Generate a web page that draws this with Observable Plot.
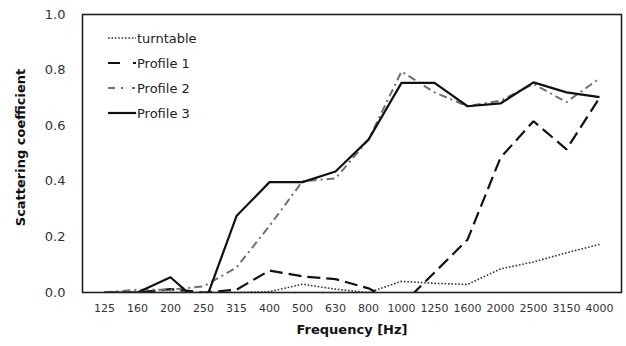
<!DOCTYPE html>
<html>
<head>
<meta charset="utf-8">
<script src="https://cdn.jsdelivr.net/npm/d3@7"></script>
<script src="https://cdn.jsdelivr.net/npm/@observablehq/plot@0.6"></script>
<style>
  html, body { margin: 0; padding: 0; background: #fff; }
  #chart svg { display: block; font-family: "DejaVu Sans", Verdana, sans-serif; }
</style>
</head>
<body>
<div id="chart"></div>
<script>
const freqs = ["125","160","200","250","315","400","500","630","800","1000","1250","1600","2000","2500","3150","4000"];
const turntable = [0, 0, 0, 0, 0, 0.003, 0.03, 0.012, 0, 0.04, 0.033, 0.029, 0.085, 0.11, 0.143, 0.173];
const profile1  = [0, 0, 0.012, 0, 0.01, 0.079, 0.058, 0.048, 0.015, -0.045, 0.072, 0.19, 0.485, 0.616, 0.515, 0.70];
const profile2  = [0, 0.01, 0.01, 0.022, 0.09, 0.24, 0.40, 0.41, 0.55, 0.795, 0.72, 0.67, 0.69, 0.75, 0.685, 0.77];
const profile3  = [0, 0, 0.055, -0.05, 0.275, 0.397, 0.397, 0.435, 0.55, 0.754, 0.754, 0.67, 0.68, 0.756, 0.72, 0.703];
const yTicks = [0, 0.2, 0.4, 0.6, 0.8, 1.0];
const seriesNames = ["turntable", "Profile 1", "Profile 2", "Profile 3"];
const seriesValues = [turntable, profile1, profile2, profile3];

const styles = {
  "turntable": {stroke: "#333", strokeWidth: 1.6, dash: "1.6,1.8", legendDash: "1.6,1.8"},
  "Profile 1": {stroke: "#111", strokeWidth: 2.2, dash: "13,6", legendDash: "12,13,3,100"},
  "Profile 2": {stroke: "#707070", strokeWidth: 2, dash: "8,4,2,4", legendDash: "7,6,2,9,3,100"},
  "Profile 3": {stroke: "#111", strokeWidth: 2.2, dash: null, legendDash: null}
};

const rows = (name, vals) => vals.map((v, i) => ({freq: freqs[i], value: v, series: name}));

const lineMarks = seriesNames.map((name, k) => Plot.line(rows(name, seriesValues[k]), {
  x: "freq", y: "value",
  stroke: styles[name].stroke,
  strokeWidth: styles[name].strokeWidth,
  strokeDasharray: styles[name].dash,
  strokeLinejoin: "miter",
  strokeLinecap: "butt",
  clip: true
}));

const chart = Plot.plot({
  width: 626,
  height: 346,
  marginLeft: 82,
  marginRight: 5,
  marginTop: 14,
  marginBottom: 54,
  style: {background: "#fff", fontFamily: "DejaVu Sans, Verdana, sans-serif"},
  x: {type: "point", domain: freqs, padding: 0.5},
  y: {domain: [0, 1]},
  marks: [
    ...lineMarks,
    Plot.frame({stroke: "#222", strokeWidth: 1.6}),
    Plot.axisY({ticks: yTicks, tickFormat: d3.format(".1f"), tickSize: 0, tickPadding: 17, fontSize: 13, fill: "#333", label: null}),
    Plot.axisX({tickSize: 0, tickPadding: 12, fontSize: 11, fill: "#333", label: null}),
    Plot.text(["Scattering coefficient"], {frameAnchor: "left", dx: -62, dy: -6, rotate: -90, textAnchor: "middle", fontSize: 13, fontWeight: "bold", fill: "#111"}),
    Plot.text(["Frequency [Hz]"], {frameAnchor: "bottom", dy: 41, textAnchor: "middle", fontSize: 13, fontWeight: "bold", fill: "#111"})
  ]
});

document.getElementById("chart").appendChild(chart);

// legend inside the plot area
const svg = d3.select(chart);
const lg = svg.append("g").attr("class", "legend").attr("text-anchor", "start");
seriesNames.forEach((name, i) => {
  const y = 38 + i * 25;
  const s = styles[name];
  lg.append("line")
    .attr("x1", 108).attr("x2", 136).attr("y1", y).attr("y2", y)
    .attr("stroke", s.stroke).attr("stroke-width", s.strokeWidth)
    .attr("stroke-dasharray", s.legendDash);
  lg.append("text")
    .attr("x", 137).attr("y", y).attr("dy", "0.35em")
    .attr("text-anchor", "start")
    .attr("font-size", 13).attr("fill", "#222")
    .text(name);
});
</script>
</body>
</html>
